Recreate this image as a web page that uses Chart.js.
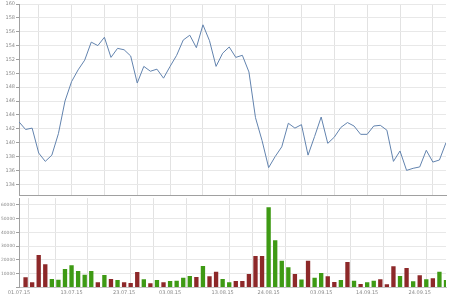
<!DOCTYPE html>
<html>
<head>
<meta charset="utf-8">
<script src="https://cdn.jsdelivr.net/npm/chart.js@4/dist/chart.umd.min.js"></script>
<style>
  html, body { margin: 0; padding: 0; background: #ffffff; }
  #wrap { position: relative; width: 450px; height: 300px; overflow: hidden; }
  #top { position: absolute; left: 0; top: 0; }
  #bottom { position: absolute; left: 0; top: 190px; }
</style>
</head>
<body>
<div id="wrap">
  <canvas id="top" width="450" height="200"></canvas>
  <canvas id="bottom" width="450" height="110"></canvas>
</div>
<script>
// ---- data ----
const firstDay = '2015-07-01';
const lastDay = '2015-09-30';
const tickLabels = ['01.07.15', '13.07.15', '23.07.15', '03.08.15', '13.08.15', '24.08.15', '03.09.15', '14.09.15', '24.09.15'];
const priceTicks = [134, 136, 138, 140, 142, 144, 146, 148, 150, 152, 154, 156, 158, 160];
const volumeTicks = [0, 10000, 20000, 30000, 40000, 50000, 60000];
const closePrice = [143.0, 141.9, 142.1, 138.5, 137.3, 138.2, 141.3, 146.0, 148.8, 150.5,
  151.9, 154.5, 154.0, 155.2, 152.3, 153.6, 153.4, 152.5, 148.6, 151.0,
  150.3, 150.6, 149.3, 151.0, 152.6, 154.8, 155.5, 153.7, 157.0, 154.7,
  151.0, 152.9, 153.8, 152.3, 152.6, 150.2, 143.6, 140.3, 136.4, 138.0,
  139.4, 142.8, 142.1, 142.6, 138.2, 140.9, 143.7, 139.9, 140.8, 142.2,
  142.9, 142.4, 141.2, 141.2, 142.4, 142.5, 141.8, 137.3, 138.8, 136.0,
  136.3, 136.5, 138.9, 137.2, 137.5, 140.0];
const volume = [null, 7350, 3700, 23600, 16800, 6100, 5600, 13400, 16100, 11900,
  9250, 11900, 3700, 9000, 6100, 5400, 3700, 3200, 11200, 5900,
  3000, 5400, 3700, 4650, 4900, 7100, 8300, 7600, 15600, 8050,
  11450, 6100, 3700, 4650, 4650, 9750, 22850, 22850, 58300, 34300,
  19450, 14600, 9750, 5750, 19450, 7100, 10500, 8050, 3900, 5400,
  18500, 4900, 2450, 3700, 4900, 5900, 2250, 15350, 8300, 14100,
  4400, 8800, 5900, 6600, 11450, 5400];
const volumeDir = ['', 'd','d','d','d','u','u','u','u','u',
  'u','u','d','u','d','u','d','d','d','u',
  'd','u','d','u','u','u','u','d','u','d',
  'd','u','u','d','d','d','d','d','u','u',
  'u','u','d','u','d','u','u','d','d','u',
  'd','u','d','u','u','d','d','d','u','d',
  'u','d','u','d','u','u'];

// ---- trading days (weekdays) ----
const dates = [];
const mondays = [];
{
  const d = new Date(firstDay + 'T12:00:00');
  const end = new Date(lastDay + 'T12:00:00');
  while (d <= end) {
    const wd = d.getDay();
    if (wd !== 0 && wd !== 6) {
      if (wd === 1) mondays.push(dates.length);
      const s = String(d.getDate()).padStart(2, '0') + '.' + String(d.getMonth() + 1).padStart(2, '0') + '.' + String(d.getFullYear()).slice(2);
      dates.push(s);
    }
    d.setDate(d.getDate() + 1);
  }
}
const labelIdx = tickLabels.map(l => dates.indexOf(l));
const lastIdx = dates.length - 1;

const FONT = { family: 'DejaVu Sans', size: 5 };
const FONT_SMALL = { family: 'DejaVu Sans', size: 4.4 };
const TXT = '#8a8a8a';
const GRID = '#e8e8e8';
const VGRID = '#e2e2e2';
const AXIS = '#a0a0a0';

// ---- price chart ----
new Chart(document.getElementById('top'), {
  type: 'line',
  data: {
    datasets: [{
      data: closePrice.map((v, i) => ({ x: i, y: v })),
      borderColor: '#6283ae',
      borderWidth: 1,
      pointRadius: 0,
      tension: 0,
      fill: false
    }]
  },
  options: {
    responsive: false,
    animation: false,
    layout: { padding: { top: 4, right: 4, bottom: 0, left: 0 } },
    plugins: { legend: { display: false }, tooltip: { enabled: false } },
    scales: {
      x: {
        type: 'linear', min: 0, max: lastIdx, offset: false,
        afterBuildTicks: s => { s.ticks = mondays.map(v => ({ value: v })); },
        afterFit: s => { s.height = 5; },
        ticks: { display: false },
        grid: { color: VGRID, drawTicks: false },
        border: { color: AXIS }
      },
      y: {
        min: 132.45, max: 160,
        afterBuildTicks: s => { s.ticks = priceTicks.map(v => ({ value: v })); },
        afterFit: s => { s.width = 19; },
        ticks: { autoSkip: false, font: FONT, color: TXT, padding: 1 },
        grid: { color: GRID, tickLength: 3, tickColor: AXIS },
        border: { color: AXIS }
      }
    }
  }
});

// ---- volume chart ----
const xTicks = Array.from(new Set(mondays.concat(labelIdx))).sort((a, b) => a - b);
new Chart(document.getElementById('bottom'), {
  type: 'bar',
  data: {
    datasets: [{
      data: volume.map((v, i) => ({ x: i, y: v })),
      backgroundColor: volumeDir.map(d => d === 'u' ? '#3e9a14' : '#8d2829'),
      borderWidth: 0,
      barPercentage: 0.66,
      categoryPercentage: 1
    }]
  },
  options: {
    responsive: false,
    animation: false,
    layout: { padding: { top: 8.1, right: 4, bottom: 0, left: 0 } },
    plugins: { legend: { display: false }, tooltip: { enabled: false } },
    scales: {
      x: {
        type: 'linear', min: 0, max: lastIdx, offset: false,
        afterBuildTicks: s => { s.ticks = xTicks.map(v => ({ value: v })); },
        afterFit: s => { s.height = 12.6; },
        ticks: {
          autoSkip: false, maxRotation: 0, minRotation: 0,
          font: FONT, color: TXT, padding: 2,
          callback: v => labelIdx.includes(v) ? dates[v] : ''
        },
        grid: {
          drawTicks: false,
          color: ctx => (ctx.tick && mondays.includes(ctx.tick.value)) ? VGRID : 'rgba(0,0,0,0)'
        },
        border: { color: '#c4c4c4' }
      },
      y: {
        min: 0, max: 65000,
        afterBuildTicks: s => { s.ticks = volumeTicks.map(v => ({ value: v })); },
        afterFit: s => { s.width = 19; },
        ticks: {
          autoSkip: false, font: FONT_SMALL, color: TXT, padding: 1,
          callback: v => v === 0 ? '' : String(v)
        },
        grid: { color: GRID, tickLength: 3, tickColor: AXIS },
        border: { color: AXIS }
      }
    }
  }
});
</script>
</body>
</html>
